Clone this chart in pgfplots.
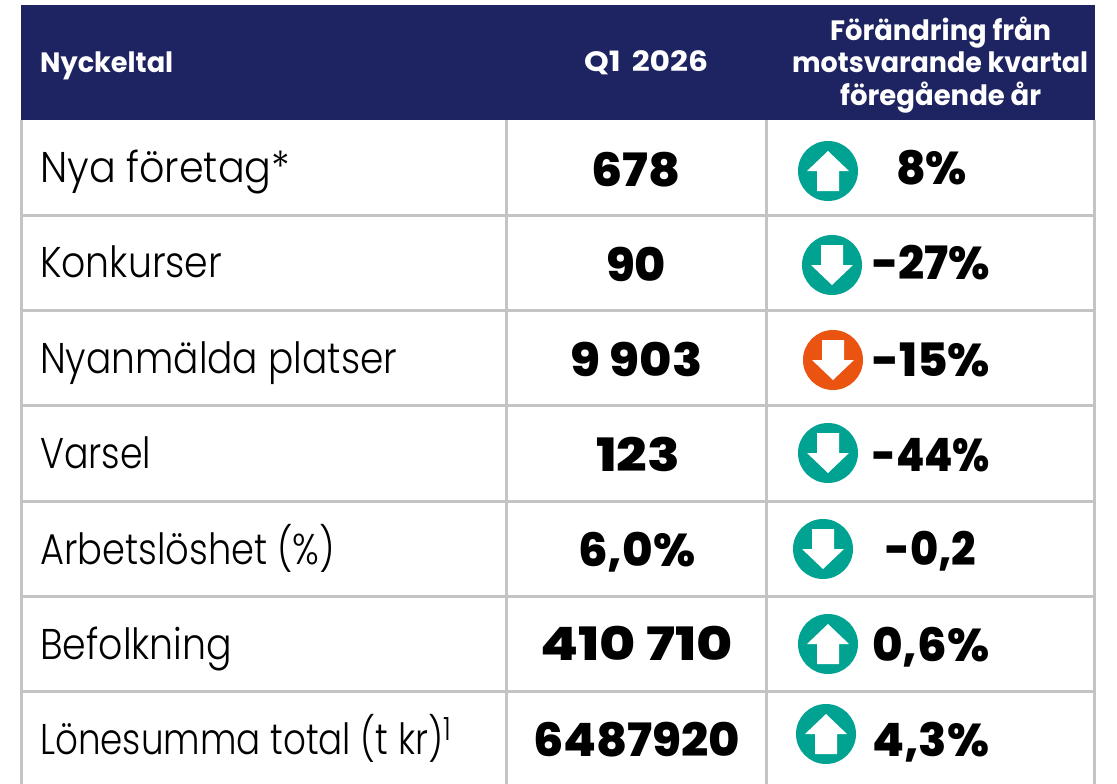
\documentclass[border=0pt]{standalone}
\usepackage{fontspec}
\usepackage{graphicx}
\usepackage{pgfplots}
\pgfplotsset{compat=1.18}
\setmainfont{Poppins Light}[BoldFont=Poppins Bold]
\newfontfamily\heavy{Poppins Bold}
\newfontfamily\xheavy{Poppins ExtraBold}
\definecolor{navy}{HTML}{1E2461}
\definecolor{gridgrey}{HTML}{C4C4C4}
\definecolor{tealarrow}{HTML}{00A392}
\definecolor{orangearrow}{HTML}{EA5310}
% arrow icons, 1 unit = 1 pixel of the reference
\pgfdeclareplotmark{iconup}{%
  \pgfpathcircle{\pgfpointorigin}{30pt}\pgfusepathqfill
  \begin{pgfscope}
  \pgfsetfillcolor{white}
  \pgfpathmoveto{\pgfpoint{0pt}{20pt}}
  \pgfpathlineto{\pgfpoint{21pt}{0pt}}
  \pgfpathlineto{\pgfpoint{11pt}{0pt}}
  \pgfpathlineto{\pgfpoint{11pt}{-20pt}}
  \pgfpathlineto{\pgfpoint{-11pt}{-20pt}}
  \pgfpathlineto{\pgfpoint{-11pt}{0pt}}
  \pgfpathlineto{\pgfpoint{-21pt}{0pt}}
  \pgfpathclose\pgfusepathqfill
  \end{pgfscope}}
\pgfdeclareplotmark{icondown}{%
  \pgfpathcircle{\pgfpointorigin}{30pt}\pgfusepathqfill
  \begin{pgfscope}
  \pgfsetfillcolor{white}
  \pgfpathmoveto{\pgfpoint{0pt}{-20pt}}
  \pgfpathlineto{\pgfpoint{21pt}{0pt}}
  \pgfpathlineto{\pgfpoint{11pt}{0pt}}
  \pgfpathlineto{\pgfpoint{11pt}{20pt}}
  \pgfpathlineto{\pgfpoint{-11pt}{20pt}}
  \pgfpathlineto{\pgfpoint{-11pt}{0pt}}
  \pgfpathlineto{\pgfpoint{-21pt}{0pt}}
  \pgfpathclose\pgfusepathqfill
  \end{pgfscope}}
% \cell{x}{baseline y}{width}{size}{text}: left edge at x, squeezed to the measured width
\newcommand{\cell}[5]{\node[anchor=base west,inner sep=0pt] at (axis cs:#1,#2)
  {\resizebox{#3pt}{\height}{\fontsize{#4}{#4}\selectfont #5}};}
\newcommand{\hcell}[5]{\node[anchor=base west,inner sep=0pt,text=white] at (axis cs:#1,#2)
  {\resizebox{#3pt}{\height}{\fontsize{#4}{#4}\selectfont\heavy #5}};}
\newcommand{\bcell}[5]{\cell{#1}{#2}{#3}{#4}{\xheavy #5}}
\begin{document}
\begin{tikzpicture}
\path[use as bounding box,fill=white] (0,0) rectangle (1117pt,784pt);
\begin{axis}[
  at={(0,0)},anchor=south west,
  width=1117pt,height=784pt,scale only axis,
  xmin=0,xmax=1117,ymin=0,ymax=784,y dir=reverse,
  hide axis,clip=false]
% header band
\addplot[draw=none,fill=navy] coordinates {(21,5) (1095,5) (1095,120) (21,120)} -- cycle;
% grid
\addplot[gridgrey,line width=3pt,forget plot] coordinates {(21.5,120) (21.5,784)};
\addplot[gridgrey,line width=3pt,forget plot] coordinates {(506,120) (506,784)};
\addplot[gridgrey,line width=3pt,forget plot] coordinates {(766,120) (766,784)};
\addplot[gridgrey,line width=3pt,forget plot] coordinates {(1094,120) (1094,784)};
\addplot[gridgrey,line width=3pt,forget plot] coordinates {(21,215) (1095,215)};
\addplot[gridgrey,line width=3pt,forget plot] coordinates {(21,310) (1095,310)};
\addplot[gridgrey,line width=3pt,forget plot] coordinates {(21,405.5) (1095,405.5)};
\addplot[gridgrey,line width=3pt,forget plot] coordinates {(21,501) (1095,501)};
\addplot[gridgrey,line width=3pt,forget plot] coordinates {(21,596.5) (1095,596.5)};
\addplot[gridgrey,line width=3pt,forget plot] coordinates {(21,691.5) (1095,691.5)};
% icons
\addplot[only marks,mark=iconup,color=tealarrow] coordinates {(828,171) (828,644) (826,734)};
\addplot[only marks,mark=icondown,color=tealarrow] coordinates {(832,265) (828,453) (823,549)};
\addplot[only marks,mark=icondown,color=orangearrow] coordinates {(833,360)};
% header text
\hcell{40}{72}{133}{28}{Nyckeltal}
\hcell{584}{72}{124}{28}{Q1\hspace{0.35em}2026}
\hcell{830}{41}{221}{28}{Förändring från}
\hcell{792}{73}{296}{28}{motsvarande kvartal}
\hcell{840}{105}{201}{28}{föregående år}
% first column
\cell{40}{182}{250}{43}{Nya företag*}
\cell{40}{277}{182}{43}{Konkurser}
\cell{40}{373}{357}{43}{Nyanmälda platser}
\cell{40}{468}{111}{43}{Varsel}
\cell{40}{564}{295}{43}{Arbetslöshet (\%)}
\cell{40}{659}{192}{43}{Befolkning}
\cell{40}{754}{411}{43}{Lönesumma total (t kr)\raisebox{14pt}{\fontsize{32}{32}\selectfont 1}}
% Q1 2026
\bcell{591}{186}{89}{46}{678}
\bcell{606}{281}{60}{46}{90}
\bcell{570}{376}{132}{46}{9 903}
\bcell{596}{471}{84}{46}{123}
\bcell{578}{566}{117}{46}{6,0\%}
\bcell{540}{660}{193}{46}{410 710}
\bcell{533}{756}{207}{46}{6487920}
% change
\bcell{896}{184}{71}{46}{8\%}
\bcell{872}{279}{118}{46}{-27\%}
\bcell{872}{376}{118}{46}{-15\%}
\bcell{872}{471}{118}{46}{-44\%}
\bcell{885}{565}{91}{46}{-0,2}
\bcell{872}{661}{117}{46}{0,6\%}
\bcell{872}{756}{117}{46}{4,3\%}
\end{axis}
\end{tikzpicture}
\end{document}
